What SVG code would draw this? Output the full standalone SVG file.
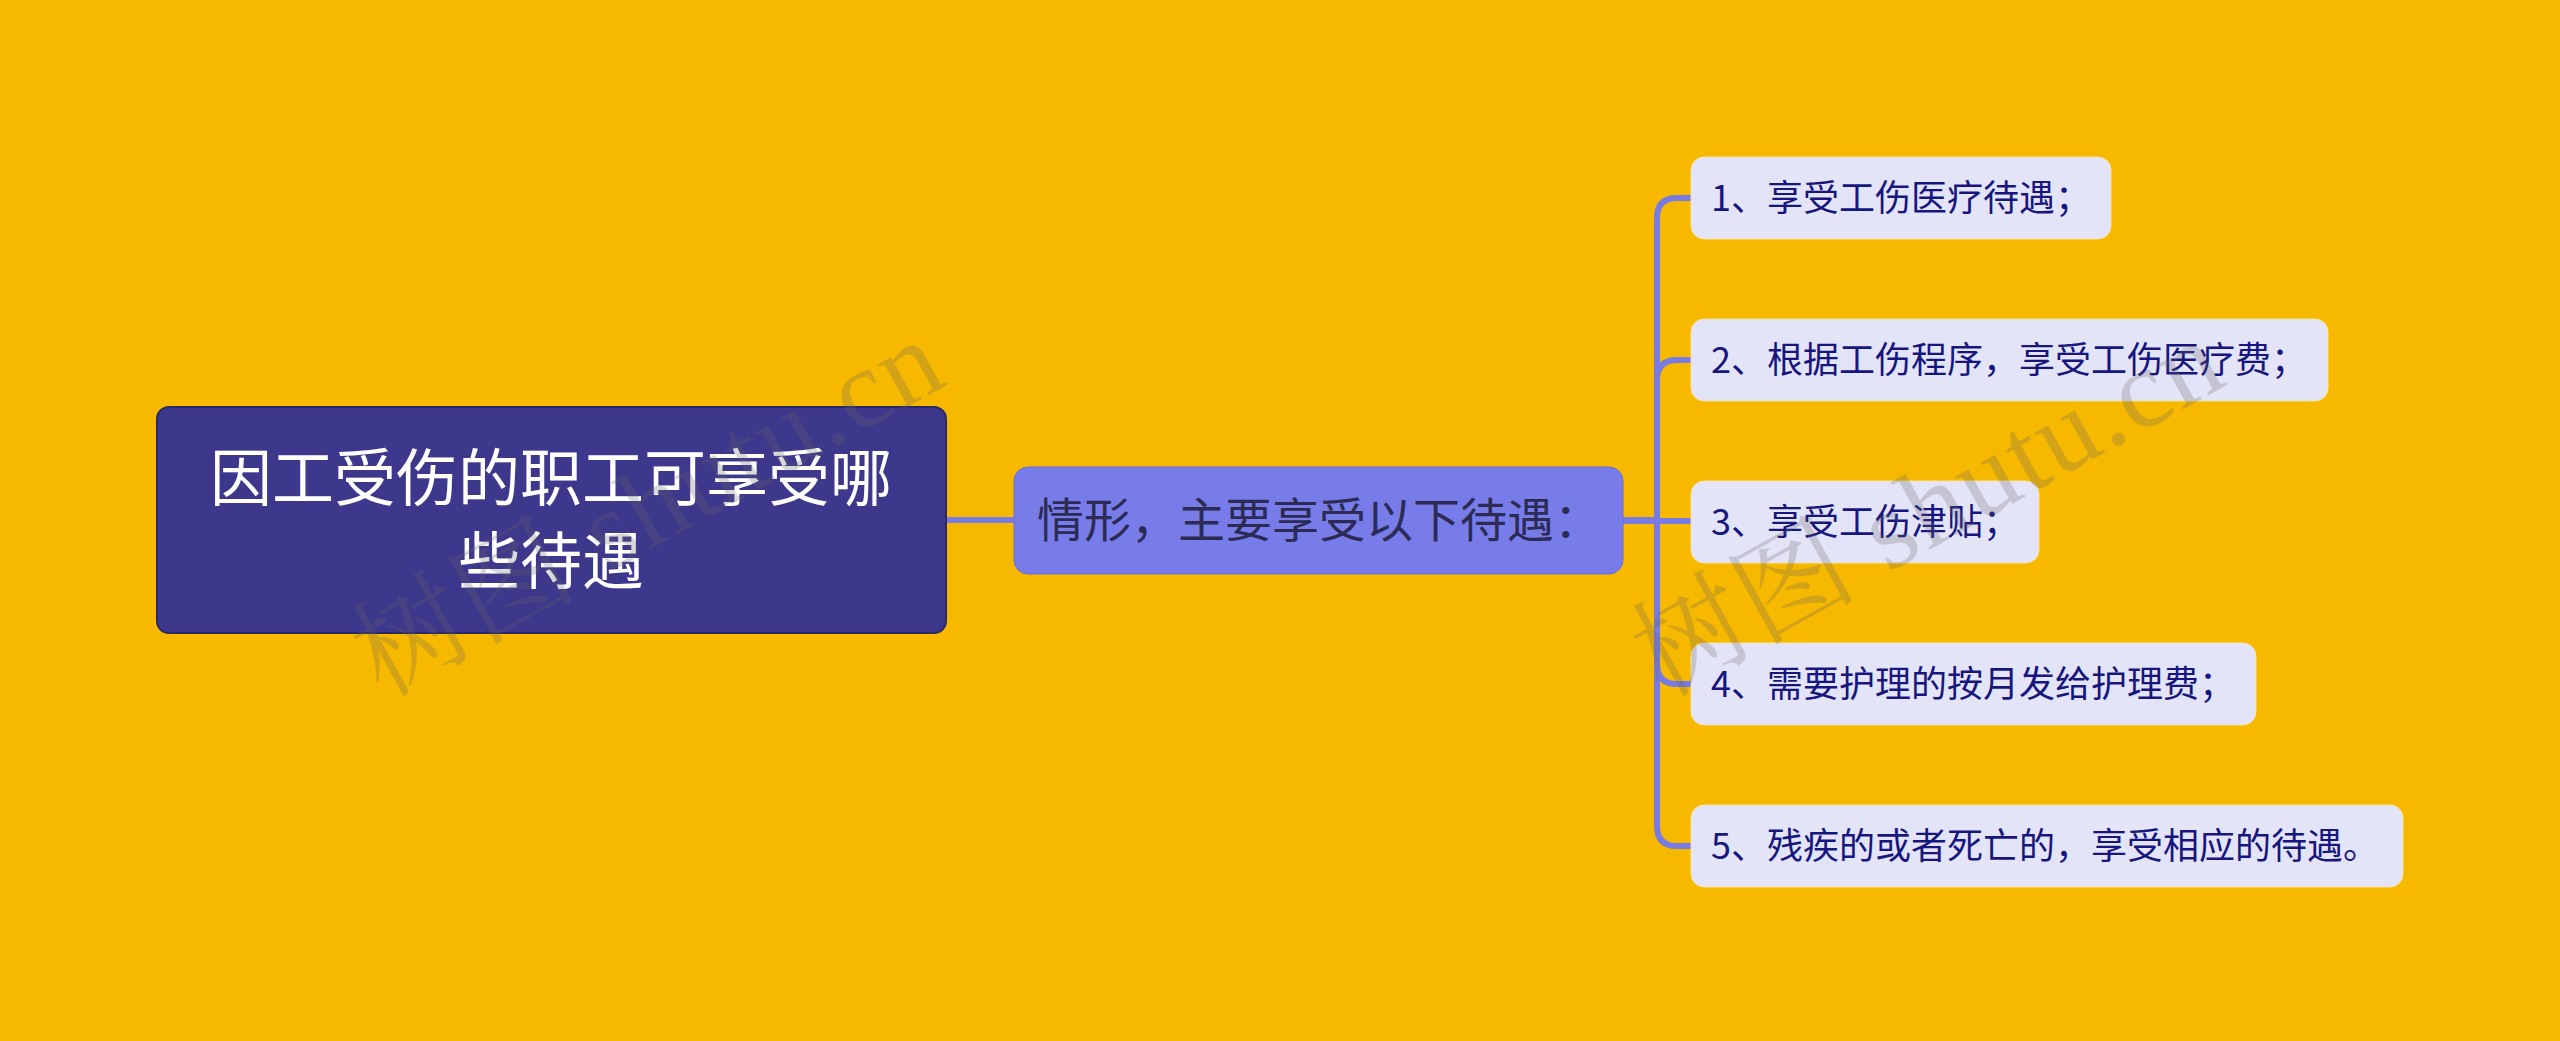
<svg xmlns="http://www.w3.org/2000/svg" width="2560" height="1041" viewBox="0 0 2560 1041">
<style>
.cjk{font-family:"Noto Sans CJK SC","Noto Sans",sans-serif}
.root-box{fill:#3e388c;stroke:#2c2868;stroke-width:2}
.root-text{fill:#ffffff;font-size:62px}
.mid-box{fill:#787ce9;stroke:#6a6ed8;stroke-width:1}
.mid-text{fill:#2b2b55;font-size:47px}
.leaf-box{fill:#e4e4f8;stroke:#f3e3a8;stroke-width:1}
.leaf-text{fill:#16167e;font-size:36px}
.conn{fill:none;stroke:#777be2;stroke-width:6}
.wm{font-family:"Liberation Serif","Noto Serif CJK SC","Noto Sans CJK SC",serif;font-size:112px;letter-spacing:2px;fill:#646464;fill-opacity:0.25}
</style>
<rect x="0" y="0" width="2560" height="1041" fill="#f7b900"/>
<g id="connectors">
<path class="conn" d="M946 520 H1014"/>
<path class="conn" d="M1623 520 H1657 V218 Q1657 198 1677 198 H1691"/>
<path class="conn" d="M1657 520 V380 Q1657 360 1677 360 H1691"/>
<path class="conn" d="M1623 521 H1691"/>
<path class="conn" d="M1657 520 V664 Q1657 684 1677 684 H1691"/>
<path class="conn" d="M1657 520 V826 Q1657 846 1677 846 H1691"/>
</g>
<g id="node-root">
<rect class="root-box" x="157" y="407" width="789" height="226" rx="12"/>
<text class="cjk root-text" x="551" y="501" text-anchor="middle">因工受伤的职工可享受哪</text>
<text class="cjk root-text" x="551" y="584" text-anchor="middle">些待遇</text>
</g>
<g id="node-mid">
<rect class="mid-box" x="1014" y="467" width="609" height="107" rx="14"/>
<text class="cjk mid-text" x="1037" y="537">情形，主要享受以下待遇：</text>
</g>
<g id="node-leaf1">
<rect class="leaf-box" x="1691" y="157" width="420" height="82" rx="13"/>
<text class="cjk leaf-text" x="1711" y="211">1、享受工伤医疗待遇；</text>
</g>
<g id="node-leaf2">
<rect class="leaf-box" x="1691" y="319" width="637" height="82" rx="13"/>
<text class="cjk leaf-text" x="1711" y="373">2、根据工伤程序，享受工伤医疗费；</text>
</g>
<g id="node-leaf3">
<rect class="leaf-box" x="1691" y="481" width="348" height="82" rx="13"/>
<text class="cjk leaf-text" x="1711" y="535">3、享受工伤津贴；</text>
</g>
<g id="node-leaf4">
<rect class="leaf-box" x="1691" y="643" width="565" height="82" rx="13"/>
<text class="cjk leaf-text" x="1711" y="697">4、需要护理的按月发给护理费；</text>
</g>
<g id="node-leaf5">
<rect class="leaf-box" x="1691" y="805" width="712" height="82" rx="13"/>
<text class="cjk leaf-text" x="1711" y="859">5、残疾的或者死亡的，享受相应的待遇。</text>
</g>
<g id="watermarks">
<text class="wm" transform="translate(382 698) rotate(-29)">树图 shutu.cn</text>
<text class="wm" transform="translate(1662 698) rotate(-29)">树图 shutu.cn</text>
</g>
</svg>
